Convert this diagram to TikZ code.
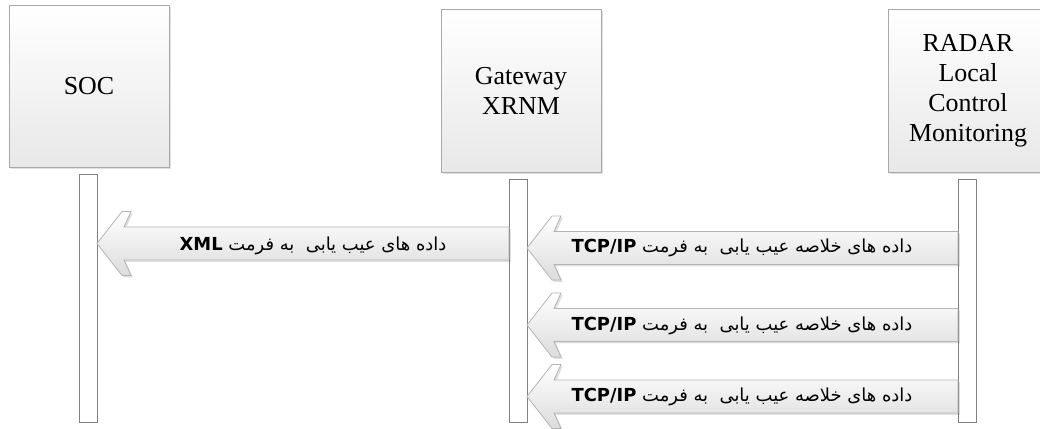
\documentclass[tikz,border=0pt]{standalone}
\usepackage{fontspec}
\setmainfont{Liberation Serif}
\newfontfamily\arabicfont[Script=Arabic]{DejaVu Sans}
\TeXXeTstate=1
\usetikzlibrary{calc}
\definecolor{boxline}{HTML}{A9A9A9}
\definecolor{boxbot}{HTML}{E8E8E8}
\definecolor{lifeline}{HTML}{808080}
\definecolor{arrline}{HTML}{B4B4B4}
\definecolor{arrbot}{HTML}{DCDCDC}
\tikzset{
  softshadow/.style={preaction={fill=black, opacity=0.12, transform canvas={xshift=1.8bp, yshift=-1.8bp}}},
  actor/.style={draw=boxline, line width=0.8bp, top color=white, bottom color=boxbot,
    minimum width=160bp, inner sep=0pt, outer sep=0pt, align=center,
    font=\fontsize{26}{30}\selectfont, softshadow},
  lifebar/.style={draw=lifeline, fill=white, line width=0.8bp, minimum width=18bp,
    inner sep=0pt, outer sep=0pt, anchor=north},
  blockarrow/.style={draw=arrline, line width=0.8bp, top color=white, bottom color=arrbot, softshadow},
  msg/.style={font=\arabicfont\fontsize{18}{21}\selectfont, inner sep=0pt},
}
\newcommand\blockarr[2]{%
  \path[blockarrow] let \p1=(#1), \p2=(#2) in
    (\x1,\y1) -- (\x1+25bp,\y1+32bp) -- (\x1+34bp,\y1+32bp) -- (\x1+27bp,\y1+16.5bp)
    -- (\x2,\y1+16.5bp) -- (\x2,\y1-16.5bp) -- (\x1+27bp,\y1-16.5bp)
    -- (\x1+34bp,\y1-32bp) -- (\x1+25bp,\y1-32bp) -- cycle;}
\begin{document}
\begin{tikzpicture}[x=1bp,y=-1bp]
\clip (0,0) rectangle (1040,428);
\fill[white] (0,0) rectangle (1040,428);

% actor boxes
\node[actor, minimum height=162bp] (soc) at (89,86) {SOC};
\node[actor, minimum height=163bp] (gw) at (521,90.5) {Gateway\\XRNM};
\node[actor, minimum height=163bp] (rad) at (968,90.5) {RADAR\\Local\\Control\\Monitoring};

% lifelines
\node[lifebar, minimum height=248bp] (socl) at (88,174) {};
\node[lifebar, minimum height=243bp] (gwl) at (518,179) {};
\node[lifebar, minimum height=243bp] (radl) at (967,179) {};

% arrow anchors
\coordinate (t0) at (socl.east |- 0,243.5);
\coordinate (e0) at (gwl.west |- 0,243.5);
\coordinate (t1) at (gwl.east |- 0,248);
\coordinate (e1) at (radl.west |- 0,248);
\coordinate (t2) at (gwl.east |- 0,325);
\coordinate (e2) at (radl.west |- 0,325);
\coordinate (t3) at (gwl.east |- 0,396.5);
\coordinate (e3) at (radl.west |- 0,396.5);

\blockarr{t0}{e0}
\blockarr{t1}{e1}
\blockarr{t2}{e2}
\blockarr{t3}{e3}

% messages
\node[msg] (m0) at (313,246) {\beginR داده های عیب یابی\ \ به فرمت \beginL\textbf{XML}\endL\endR};
\node[msg] (m1) at (742,248) {\beginR داده های خلاصه عیب یابی\ \ به فرمت \beginL\textbf{TCP/IP}\endL\endR};
\node[msg] (m2) at (742,326) {\beginR داده های خلاصه عیب یابی\ \ به فرمت \beginL\textbf{TCP/IP}\endL\endR};
\node[msg] (m3) at (742,397) {\beginR داده های خلاصه عیب یابی\ \ به فرمت \beginL\textbf{TCP/IP}\endL\endR};
\end{tikzpicture}
\end{document}
